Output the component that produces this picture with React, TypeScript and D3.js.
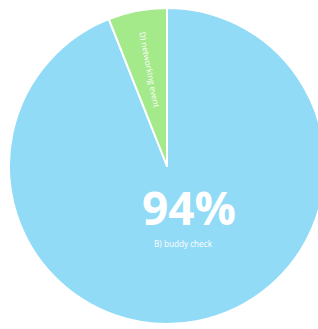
import React from "react";
import * as d3 from "d3";

const categories = ["B) buddy check", "D) networking event"];
const values = [94, 6];
const colors = ["#91dbf7", "#a4e98a"];

const W = 318;
const H = 329;
const CX = 167;
const CY = 166;
const R = 158;

export default function App() {
  React.useLayoutEffect(() => {
    document.body.style.margin = "0";
  }, []);
  const pie = d3.pie<number>().sort(null).value((d) => d);
  const arcs = pie(values);
  const arcGen = d3.arc<d3.PieArcDatum<number>>().innerRadius(0).outerRadius(R);
  const total = d3.sum(values);
  const fmt = (v: number) => `${Math.round((v / total) * 100)}%`;

  const big = arcs[0];
  const small = arcs[1];
  const smallMid = (small.startAngle + small.endAngle) / 2;
  const smallDeg = (smallMid * 180) / Math.PI;
  const lr = 98;
  const lx = lr * Math.sin(smallMid);
  const ly = -lr * Math.cos(smallMid);

  return (
    <svg width={W} height={H} style={{ display: "block" }} fontFamily="'Open Sans', sans-serif">
      <g transform={`translate(${CX},${CY})`}>
        {arcs.map((a, i) => (
          <path key={i} d={arcGen(a) || ""} fill={colors[i]} stroke="#ffffff" strokeWidth={2} strokeLinejoin="round" />
        ))}
        <text
          transform={`translate(${lx},${ly}) rotate(${smallDeg - 360 + 90})`}
          textAnchor="middle"
          dominantBaseline="middle"
          fontSize={8.2}
          fill="#ffffff"
        >
          {categories[1]}
        </text>
        <text x={22} y={59} textAnchor="middle" fontSize={46} fontWeight="bold" fill="#ffffff">
          {fmt(big.value)}
        </text>
        <text x={16} y={81} textAnchor="middle" fontSize={8.2} fill="#ffffff">
          {categories[0]}
        </text>
      </g>
    </svg>
  );
}
